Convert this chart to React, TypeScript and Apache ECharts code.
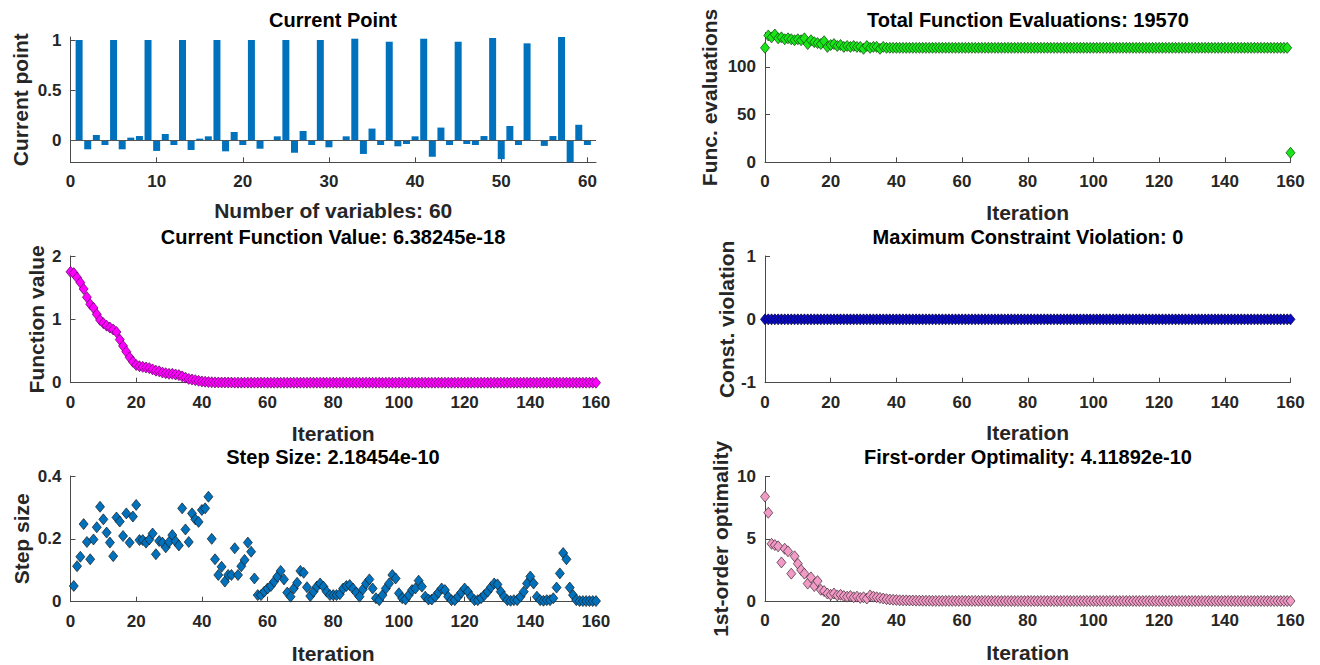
import React, { useEffect, useRef } from "react";
import * as echarts from "echarts";

// ---------- data ----------
const VAR_TICKS = [0, 10, 20, 30, 40, 50, 60];
const ITER_TICKS = [0, 20, 40, 60, 80, 100, 120, 140, 160];
const X_TICKS_Y = [0, 0.5, 1];
const FVAL_TICKS = [0, 1, 2];
const STEP_TICKS = [0, 0.2, 0.4];
const FCOUNT_TICKS = [0, 50, 100];
const CONSTR_TICKS = [-1, 0, 1];
const OPT_TICKS = [0, 5, 10];

// current point, variables 1..60
const currentPoint = [
  1.0, -0.086, 0.056, -0.043, 1.0, -0.086, 0.03, 0.046, 1.0, -0.102,
  0.066, -0.043, 1.0, -0.093, 0.02, 0.043, 1.0, -0.106, 0.086, -0.043,
  1.0, -0.08, 0.007, 0.043, 1.0, -0.12, 0.096, -0.043, 1.0, -0.066,
  0.0, 0.043, 1.013, -0.132, 0.12, -0.043, 0.983, -0.056, -0.033, 0.043,
  1.013, -0.16, 0.13, -0.043, 0.983, -0.033, -0.043, 0.046, 1.02, -0.184,
  0.145, -0.043, 0.967, 0.0, -0.052, 0.046, 1.03, -0.215, 0.158, -0.043,
];

// function value, iterations 0..160
const fval = [
  1.75, 1.73, 1.66, 1.58, 1.48, 1.35, 1.24, 1.18, 1.08, 0.99,
  0.94, 0.9, 0.87, 0.84, 0.8, 0.68, 0.58, 0.49, 0.4, 0.33,
  0.28, 0.26, 0.25, 0.24, 0.23, 0.21, 0.19, 0.18, 0.16, 0.15,
  0.14, 0.14, 0.13, 0.12, 0.1, 0.08, 0.06, 0.05, 0.04, 0.03,
  0.02, 0.015, 0.01, 0.007, 0.005, 0.004, 0.003, 0.003, 0.002, 0.002,
  0.001, 0.001, 0.001, 0.001, 0.001, 0.001, 0.001, 0.001, 0.001, 0.001,
  0, 0, 0, 0, 0, 0, 0, 0, 0, 0,
  0, 0, 0, 0, 0, 0, 0, 0, 0, 0,
  0, 0, 0, 0, 0, 0, 0, 0, 0, 0,
  0, 0, 0, 0, 0, 0, 0, 0, 0, 0,
  0, 0, 0, 0, 0, 0, 0, 0, 0, 0,
  0, 0, 0, 0, 0, 0, 0, 0, 0, 0,
  0, 0, 0, 0, 0, 0, 0, 0, 0, 0,
  0, 0, 0, 0, 0, 0, 0, 0, 0, 0,
  0, 0, 0, 0, 0, 0, 0, 0, 0, 0,
  0, 0, 0, 0, 0, 0, 0, 0, 0, 0,
  0,
];

// step size, iterations 1..160
const stepSize = [
  0.05, 0.113, 0.143, 0.247, 0.19, 0.135, 0.198, 0.237, 0.302, 0.262,
  0.22, 0.188, 0.145, 0.268, 0.255, 0.209, 0.281, 0.188, 0.271, 0.308,
  0.196, 0.196, 0.188, 0.198, 0.217, 0.151, 0.193, 0.188, 0.173, 0.19,
  0.212, 0.192, 0.179, 0.297, 0.23, 0.19, 0.281, 0.262, 0.254, 0.292,
  0.297, 0.334, 0.2, 0.135, 0.085, 0.111, 0.064, 0.085, 0.085, 0.17,
  0.085, 0.113, 0.133, 0.188, 0.159, 0.074, 0.021, 0.021, 0.032, 0.042,
  0.05, 0.064, 0.08, 0.098, 0.071, 0.029, 0.016, 0.042, 0.06, 0.098,
  0.092, 0.046, 0.018, 0.032, 0.048, 0.058, 0.048, 0.032, 0.021, 0.021,
  0.021, 0.024, 0.042, 0.05, 0.053, 0.042, 0.029, 0.016, 0.039, 0.058,
  0.071, 0.042, 0.011, 0.005, 0.021, 0.042, 0.058, 0.085, 0.074, 0.027,
  0.011, 0.007, 0.021, 0.037, 0.042, 0.067, 0.048, 0.016, 0.007, 0.007,
  0.016, 0.029, 0.042, 0.037, 0.016, 0.005, 0.005, 0.016, 0.029, 0.042,
  0.032, 0.016, 0.005, 0.005, 0.011, 0.021, 0.032, 0.046, 0.058, 0.055,
  0.032, 0.016, 0.005, 0.003, 0.005, 0.005, 0.016, 0.032, 0.058, 0.08,
  0.058, 0.016, 0.005, 0.003, 0.005, 0.005, 0.011, 0.045, 0.09, 0.155,
  0.135, 0.045, 0.021, 0.005, 0.002, 0.002, 0.002, 0.002, 0.002, 0.002,
];

// function evaluations per iteration, iterations 0..160
const funcCount = [
  120, 133, 131, 134, 130, 131, 129, 130, 129, 128,
  129, 128, 130, 124, 128, 126, 125, 124, 127, 121,
  123, 124, 122, 123, 121, 122, 121, 122, 121, 121,
  119, 122, 120, 121, 121, 119, 121, 120, 120, 120,
  120, 120, 120, 120, 120, 120, 120, 120, 120, 120,
  120, 120, 120, 120, 120, 120, 120, 120, 120, 120,
  120, 120, 120, 120, 120, 120, 120, 120, 120, 120,
  120, 120, 120, 120, 120, 120, 120, 120, 120, 120,
  120, 120, 120, 120, 120, 120, 120, 120, 120, 120,
  120, 120, 120, 120, 120, 120, 120, 120, 120, 120,
  120, 120, 120, 120, 120, 120, 120, 120, 120, 120,
  120, 120, 120, 120, 120, 120, 120, 120, 120, 120,
  120, 120, 120, 120, 120, 120, 120, 120, 120, 120,
  120, 120, 120, 120, 120, 120, 120, 120, 120, 120,
  120, 120, 120, 120, 120, 120, 120, 120, 120, 120,
  120, 120, 120, 120, 120, 120, 120, 120, 120, 120,
  10,
];

// maximum constraint violation, iterations 0..160
const constrViolation = [
  0, 0, 0, 0, 0, 0, 0, 0, 0, 0, 0, 0, 0, 0, 0, 0, 0, 0, 0, 0,
  0, 0, 0, 0, 0, 0, 0, 0, 0, 0, 0, 0, 0, 0, 0, 0, 0, 0, 0, 0,
  0, 0, 0, 0, 0, 0, 0, 0, 0, 0, 0, 0, 0, 0, 0, 0, 0, 0, 0, 0,
  0, 0, 0, 0, 0, 0, 0, 0, 0, 0, 0, 0, 0, 0, 0, 0, 0, 0, 0, 0,
  0, 0, 0, 0, 0, 0, 0, 0, 0, 0, 0, 0, 0, 0, 0, 0, 0, 0, 0, 0,
  0, 0, 0, 0, 0, 0, 0, 0, 0, 0, 0, 0, 0, 0, 0, 0, 0, 0, 0, 0,
  0, 0, 0, 0, 0, 0, 0, 0, 0, 0, 0, 0, 0, 0, 0, 0, 0, 0, 0, 0,
  0, 0, 0, 0, 0, 0, 0, 0, 0, 0, 0, 0, 0, 0, 0, 0, 0, 0, 0, 0,
  0,
];

// first-order optimality, iterations 0..160
const optimality = [
  8.4, 7.1, 4.6, 4.5, 4.4, 3.1, 4.2, 4.0, 2.2, 3.6,
  3.0, 2.5, 2.2, 1.4, 1.9, 1.2, 1.6, 0.9, 0.8, 0.6,
  0.5, 0.6, 0.45, 0.5, 0.4, 0.35, 0.4, 0.3, 0.35, 0.25,
  0.3, 0.2, 0.45, 0.35, 0.3, 0.25, 0.2, 0.15, 0.12, 0.1,
  0.08, 0.06, 0.05, 0.05, 0.04, 0.04, 0.03, 0.03, 0.02, 0.02,
  0.02, 0.01, 0.01, 0.01, 0.01, 0.01, 0.01, 0.01, 0.01, 0.01,
  0.01, 0.01, 0.01, 0.01, 0.01, 0.01, 0.01, 0.01, 0.01, 0.01,
  0, 0, 0, 0, 0, 0, 0, 0, 0, 0,
  0, 0, 0, 0, 0, 0, 0, 0, 0, 0,
  0, 0, 0, 0, 0, 0, 0, 0, 0, 0,
  0, 0, 0, 0, 0, 0, 0, 0, 0, 0,
  0, 0, 0, 0, 0, 0, 0, 0, 0, 0,
  0, 0, 0, 0, 0, 0, 0, 0, 0, 0,
  0, 0, 0, 0, 0, 0, 0, 0, 0, 0,
  0, 0, 0, 0, 0, 0, 0, 0, 0, 0,
  0, 0, 0, 0, 0, 0, 0, 0, 0, 0,
  0,
];

const TITLES = [
  "Current Point",
  "Current Function Value: 6.38245e-18",
  "Step Size: 2.18454e-10",
  "Total Function Evaluations: 19570",
  "Maximum Constraint Violation: 0",
  "First-order Optimality: 4.11892e-10",
];

// ---------- styling ----------
const FONT = '"Liberation Sans", Arial, Helvetica, sans-serif';
const AXIS_COLOR = "#4a4a4a";
const TEXT_COLOR = "#262626";

const LEFT_X = 70.5;
const RIGHT_X = 765;
const PLOT_W = 525.5;

const grids = [
  { left: LEFT_X, top: 37, width: PLOT_W, height: 125.3 },
  { left: LEFT_X, top: 256, width: PLOT_W, height: 126.7 },
  { left: LEFT_X, top: 476, width: PLOT_W, height: 125.7 },
  { left: RIGHT_X, top: 32.6, width: PLOT_W, height: 129.7 },
  { left: RIGHT_X, top: 256, width: PLOT_W, height: 126.7 },
  { left: RIGHT_X, top: 476.7, width: PLOT_W, height: 124.3 },
];

const titlePos = [
  [333, 20],
  [333, 237],
  [333, 457],
  [1028, 20],
  [1028, 237],
  [1028, 457],
];

function xAxis(gridIndex: number, min: number, max: number, ticks: number[], name: string, nameGap: number) {
  return {
    type: "value",
    gridIndex,
    min,
    max,
    name,
    nameLocation: "middle",
    nameGap,
    nameTextStyle: { color: TEXT_COLOR, fontSize: 21, fontWeight: "bold", fontFamily: FONT },
    axisLine: { onZero: false, lineStyle: { color: AXIS_COLOR, width: 1 } },
    axisTick: { inside: true, length: 5, customValues: ticks, lineStyle: { color: AXIS_COLOR } },
    axisLabel: {
      customValues: ticks,
      margin: 11,
      color: TEXT_COLOR,
      fontSize: 17,
      fontWeight: "bold",
      fontFamily: FONT,
    },
    splitLine: { show: false },
  };
}

function yAxis(gridIndex: number, min: number, max: number, ticks: number[], name: string, nameGap: number) {
  return {
    type: "value",
    gridIndex,
    min,
    max,
    name,
    nameLocation: "middle",
    nameGap,
    nameRotate: 90,
    nameTextStyle: { color: TEXT_COLOR, fontSize: 21, fontWeight: "bold", fontFamily: FONT },
    axisLine: { show: true, onZero: false, lineStyle: { color: AXIS_COLOR, width: 1 } },
    axisTick: { show: true, inside: true, length: 5, customValues: ticks, lineStyle: { color: AXIS_COLOR } },
    axisLabel: {
      customValues: ticks,
      margin: 9,
      color: TEXT_COLOR,
      fontSize: 17,
      fontWeight: "bold",
      fontFamily: FONT,
    },
    splitLine: { show: false },
  };
}

function scatter(idx: number, data: number[][], fill: string, border: string) {
  return {
    type: "scatter",
    xAxisIndex: idx,
    yAxisIndex: idx,
    data,
    symbol: "diamond",
    symbolSize: [9, 11],
    clip: false,
    itemStyle: { color: fill, borderColor: border, borderWidth: 0.7, opacity: 1 },
    silent: true,
  };
}

export default function App() {
  const ref = useRef<HTMLDivElement>(null);

  useEffect(() => {
    if (!ref.current) return;
    const chart = echarts.init(ref.current, null, { renderer: "svg" });

    const barData = currentPoint.map((v, i) => [i + 1, v]);
    const fvalData = fval.map((v, i) => [i, v]);
    const stepData = stepSize.map((v, i) => [i + 1, v]);
    const countData = funcCount.map((v, i) => [i, v]);
    const constrData = constrViolation.map((v, i) => [i, v]);
    const optData = optimality.map((v, i) => [i, v]);

    const option = {
      animation: false,
      backgroundColor: "#ffffff",
      grid: grids.map((g) => ({ ...g, containLabel: false })),
      xAxis: [
        xAxis(0, 0, 61, VAR_TICKS, "Number of variables: 60", 38),
        xAxis(1, 0, 160, ITER_TICKS, "Iteration", 40),
        xAxis(2, 0, 160, ITER_TICKS, "Iteration", 41),
        xAxis(3, 0, 160, ITER_TICKS, "Iteration", 40),
        xAxis(4, 0, 160, ITER_TICKS, "Iteration", 39),
        xAxis(5, 0, 160, ITER_TICKS, "Iteration", 41),
      ],
      yAxis: [
        yAxis(0, -0.215, 1.03, X_TICKS_Y, "Current point", 40),
        yAxis(1, 0, 2, FVAL_TICKS, "Function value", 24),
        yAxis(2, 0, 0.4, STEP_TICKS, "Step size", 39),
        yAxis(3, 0, 136, FCOUNT_TICKS, "Func. evaluations", 45),
        yAxis(4, -1, 1, CONSTR_TICKS, "Const. violation", 27),
        yAxis(5, 0, 10, OPT_TICKS, "1st-order optimality", 34),
      ],
      graphic: TITLES.map((t, i) => ({
        type: "text",
        x: titlePos[i][0],
        y: titlePos[i][1],
        silent: true,
        style: {
          text: t,
          fill: "#000000",
          fontSize: 20,
          fontWeight: "bold",
          fontFamily: FONT,
          align: "center",
          verticalAlign: "middle",
          textAlign: "center",
          textVerticalAlign: "middle",
        },
      })),
      series: [
        {
          type: "bar",
          xAxisIndex: 0,
          yAxisIndex: 0,
          data: barData,
          barWidth: 7,
          itemStyle: { color: "#0072BD" },
          silent: true,
          markLine: {
            silent: true,
            symbol: "none",
            label: { show: false },
            lineStyle: { color: "#555555", width: 1.2, type: "solid" },
            data: [{ yAxis: 0 }],
          },
        },
        scatter(1, fvalData, "#FF00FF", "#5a005a"),
        scatter(2, stepData, "#0072BD", "#1a1a1a"),
        scatter(3, countData, "#19E619", "#0b3d0b"),
        scatter(4, constrData, "#0A0AC8", "#000033"),
        scatter(5, optData, "#F29AC6", "#3a2a30"),
      ],
    };

    chart.setOption(option as any);
    return () => chart.dispose();
  }, []);

  return (
    <div
      ref={ref}
      style={{ position: "fixed", left: 0, top: 0, width: 1320, height: 665, background: "#fff" }}
    />
  );
}
